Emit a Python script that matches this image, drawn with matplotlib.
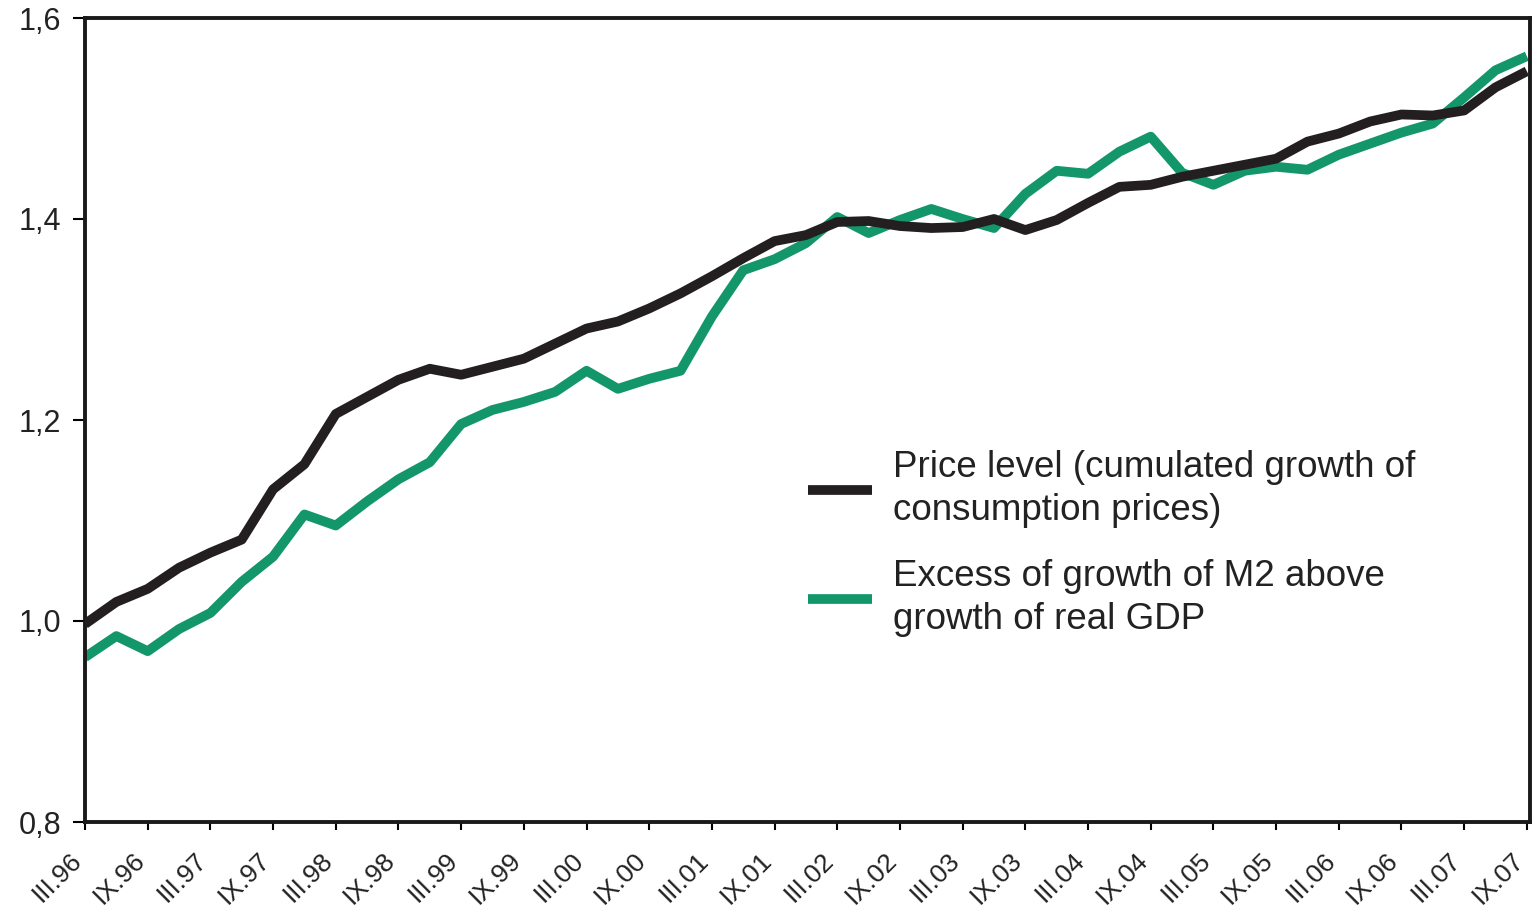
import matplotlib.pyplot as plt
import matplotlib.transforms as mtransforms
import numpy as np

plt.rcParams['font.family'] = ['Liberation Sans', 'DejaVu Sans']

# quarterly observations, months counted from III.96
months = list(range(0, 139, 3))

price_level = [0.997, 1.019, 1.032, 1.053, 1.068, 1.081, 1.131, 1.156, 1.206, 1.223,
               1.240, 1.251, 1.245, 1.253, 1.261, 1.276, 1.291, 1.298, 1.311, 1.326,
               1.343, 1.361, 1.378, 1.384, 1.397, 1.398, 1.393, 1.391, 1.392, 1.400,
               1.389, 1.399, 1.416, 1.432, 1.434, 1.442, 1.448, 1.454, 1.460, 1.477,
               1.485, 1.497, 1.504, 1.503, 1.508, 1.531, 1.547]

money_excess = [0.964, 0.985, 0.970, 0.992, 1.008, 1.039, 1.064, 1.106, 1.095, 1.119,
                1.141, 1.158, 1.196, 1.210, 1.218, 1.228, 1.249, 1.231, 1.241, 1.249,
                1.303, 1.349, 1.360, 1.376, 1.402, 1.386, 1.399, 1.410, 1.400, 1.391,
                1.425, 1.448, 1.445, 1.467, 1.482, 1.446, 1.434, 1.448, 1.452, 1.449,
                1.464, 1.475, 1.486, 1.495, 1.521, 1.548, 1.562]

tick_labels = []
for yr in range(96, 108):
    tick_labels += ["III.%02d" % (yr % 100), "IX.%02d" % (yr % 100)]
tick_pos = list(range(0, 6 * len(tick_labels), 6))

y_ticks = [0.8, 1.0, 1.2, 1.4, 1.6]
y_labels = ["0,8", "1,0", "1,2", "1,4", "1,6"]

labels = ["Price level (cumulated growth of\nconsumption prices)",
          "Excess of growth of M2 above\ngrowth of real GDP"]

fig = plt.figure(figsize=(15.38, 9.10), dpi=100)
ax = fig.add_axes([85 / 1538, 1 - 822 / 910, 1445 / 1538, 804 / 910])

ax.plot(months, price_level, color='#231f20', lw=7, solid_joinstyle='round',
        solid_capstyle='butt', label=labels[0], zorder=3)
ax.plot(months, money_excess, color='#13976a', lw=7, solid_joinstyle='round',
        solid_capstyle='butt', label=labels[1], zorder=2)

ax.set_xlim(0, 138.3)
ax.set_ylim(0.8, 1.6)
ax.set_yticks(y_ticks)
ax.set_yticklabels(y_labels, fontsize=22, color='#222222')
ax.set_xticks(tick_pos)
ax.set_xticklabels(tick_labels, fontsize=19, rotation=45, ha='right', va='center',
                   rotation_mode='anchor', color='#222222')
ax.tick_params(axis='x', length=6, width=1.5, pad=19, direction='out')
ax.tick_params(axis='y', length=9, width=1.5, pad=8, direction='out')
# labels sit a little left of their ticks
shift = mtransforms.ScaledTranslation(-7 / 100, 0, fig.dpi_scale_trans)
for lbl in ax.get_xticklabels():
    lbl.set_transform(lbl.get_transform() + shift)
for s in ax.spines.values():
    s.set_linewidth(2.8)
    s.set_color('#1a1a1a')

leg = ax.legend(loc='upper left', bbox_to_anchor=(808 / 1538, 1 - 450 / 910),
                bbox_transform=fig.transFigure, frameon=False, fontsize=26.5,
                handlelength=1.75, handletextpad=0.55, labelspacing=0.85,
                borderpad=0, borderaxespad=0)
for t in leg.get_texts():
    t.set_color('#222222')
    t.set_linespacing(1.3)

fig.savefig('out.png', dpi=100)
